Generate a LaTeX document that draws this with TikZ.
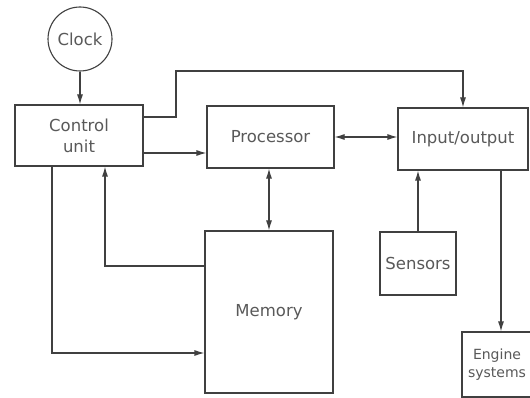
\documentclass[tikz,border=0pt]{standalone}
\usepackage{fontspec}
\setmainfont{DejaVu Sans}
\usetikzlibrary{arrows.meta}
\begin{document}
\begin{tikzpicture}[
  x=1pt, y=-1pt,
  >={Latex[length=10pt,width=6pt]},
  blk/.style={draw=black!75, line width=1.1pt, fill=white, inner sep=0pt, align=center, font={\fontsize{16.5}{21}\selectfont}, text=black!65},
  clk/.style={blk, circle, minimum size=64pt},
  lnk/.style={->, draw=black!75, line width=1.1pt},
  lnkboth/.style={<->, draw=black!75, line width=1.1pt}
]
\useasboundingbox (0,0) rectangle (530,398);
\clip (0,0) rectangle (530,398);
\node[clk] (clk) at (80,39) {Clock};
\node[blk, minimum width=128pt, minimum height=61pt] (ctrl) at (79,135.5) {Control\\unit};
\node[blk, minimum width=127pt, minimum height=62pt] (proc) at (270.5,137) {Processor};
\node[blk, minimum width=130pt, minimum height=62pt] (io) at (463,139) {Input/output};
\node[blk, minimum width=128pt, minimum height=162pt] (mem) at (269,312) {Memory};
\node[blk, minimum width=76pt, minimum height=63pt] (sens) at (418,263.5) {Sensors};
\node[blk, minimum width=70pt, minimum height=65pt, font={\fontsize{14}{18}\selectfont}] (eng) at (497,364.5) {Engine\\systems};
\coordinate (bendA) at (176,71);
\coordinate (ctrlio) at ([yshift=18.5pt]ctrl.east);
\coordinate (ctrlp) at ([yshift=-17.5pt]ctrl.east);
\coordinate (ctrlm) at ([xshift=-27pt]ctrl.south);
\coordinate (ctrlin) at ([xshift=26pt]ctrl.south);
\coordinate (memin) at ([yshift=-41pt]mem.west);
\coordinate (memout) at ([yshift=46pt]mem.west);
\coordinate (engin) at ([xshift=4pt]eng.north);
\draw[lnk] (clk.south) -- (clk.south |- ctrl.north);
\draw[lnk] (ctrlio) -| (bendA) -| (io.north);
\draw[lnk] (ctrlp) -- (ctrlp -| proc.west);
\draw[lnkboth] (proc.east) -- (proc.east -| io.west);
\draw[lnkboth] (mem.north |- proc.south) -- (mem.north);
\draw[lnk] (sens.north) -- (sens.north |- io.south);
\draw[lnk] (engin |- io.south) -- (engin);
\draw[lnk] (ctrlm) |- (memin);
\draw[lnk] (memout) -| (ctrlin);
\end{tikzpicture}
\end{document}
